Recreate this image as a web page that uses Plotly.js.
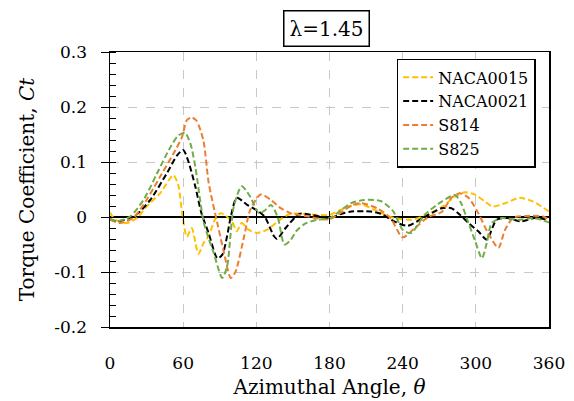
<!DOCTYPE html>
<html>
<head>
<meta charset="utf-8">
<script src="https://cdn.plot.ly/plotly-3.0.1.min.js"></script>
<style>html,body{margin:0;padding:0;background:#fff;}#chart{width:574px;height:401px;}</style>
</head>
<body>
<div id="chart"></div>
<script>
// ---- data ----
var seriesNames = ["NACA0015", "NACA0021", "S814", "S825"];

var naca0015X = [0,4,9,14,22,30,41,52,56,59,63,67,72.5,76.6,81,86,90.5,95,100,104,108,113.5,120.5,129,140,148,156,168,180,189,198,206,219,230,240,247,258,272,283,291,299,307.5,314,324,336,347,360];
var naca0015Y = [0.008,-0.005,-0.009,-0.011,-0.002,0.019,0.043,0.076,0.058,0.01,-0.036,-0.02,-0.067,-0.048,-0.034,-0.005,0.007,0.002,-0.008,-0.026,-0.011,-0.023,-0.029,-0.023,-0.004,0.006,0.006,0.004,0.004,0.013,0.02,0.023,0.011,0.0,-0.004,-0.005,0.002,0.018,0.037,0.045,0.041,0.028,0.019,0.025,0.035,0.028,0.010];

var naca0021X = [0,6,12,21.5,33,46.5,55,60,64,70,75,81,88,92,96,99,104,112.5,122,127,134.5,137,144,152,156,165,180,190,198,214,222,233,244,258,272,280,287,294,302,309,317,326,337,348,360];
var naca0021Y = [-0.004,-0.008,-0.005,0.004,0.031,0.079,0.112,0.122,0.103,0.055,0.007,-0.03,-0.075,-0.069,-0.035,0.0,0.035,0.022,0.01,0.0,-0.035,-0.04,-0.02,0.0,0.006,0.004,-0.002,0.006,0.01,0.01,0.006,-0.008,-0.016,0.0,0.016,0.016,0.004,-0.011,-0.026,-0.041,-0.005,-0.002,-0.008,-0.002,-0.005];

var s814X = [0,8,19,30,41,52,59,63,67,71,76.6,81,88,93.5,99,103,110,115,123.5,132,140,148,160,180,198,206,219,230,240,250,261,272,280,287,294,302,310,318.5,324,331,343,355,360];
var s814Y = [-0.005,-0.011,-0.002,0.031,0.073,0.115,0.145,0.176,0.181,0.175,0.139,0.061,-0.011,-0.065,-0.111,-0.099,-0.035,0.013,0.041,0.031,0.016,0.007,0.002,-0.004,0.021,0.025,0.016,-0.002,-0.037,-0.02,0.0,0.009,0.035,0.043,0.035,0.007,-0.029,-0.056,-0.023,-0.001,0.002,0.001,-0.005];

var s825X = [0,5.5,16.5,27.5,38.5,49.5,56,61.5,66,70,77,85,92,96,101.5,108,115,122,127,132,137.5,143,148,153,160,170,180,197.7,208.6,222,232,240,247,258,272,283,288,292.5,299,305,309,313,321,335,348,360];
var s825Y = [-0.003,-0.008,0.001,0.031,0.079,0.127,0.148,0.153,0.133,0.091,-0.011,-0.065,-0.111,-0.09,0.019,0.056,0.037,0.007,0.012,0.022,0.0,-0.05,-0.042,-0.025,-0.012,-0.005,-0.002,0.025,0.031,0.029,0.011,-0.023,-0.029,0.004,0.028,0.04,0.025,-0.002,-0.041,-0.075,-0.047,-0.011,-0.002,-0.005,-0.002,-0.01];

var xTickVals = [0,60,120,180,240,300,360];
var yTickVals = [-0.2,-0.1,0,0.1,0.2,0.3];
var yTickText = ["-0.2","-0.1","0","0.1","0.2","0.3"];
var titleText = "λ=1.45";

// ---- styling ----
var colors = ["#FFC000", "#000000", "#ED7D31", "#70AD47"];
var serif = "DejaVu Serif";
var xs = [naca0015X, naca0021X, s814X, s825X];
var ys = [naca0015Y, naca0021Y, s814Y, s825Y];

var traces = seriesNames.map(function (n, i) {
  return {
    x: xs[i], y: ys[i], name: n, type: "scatter", mode: "lines",
    line: {color: colors[i], width: 2, dash: "6px,3px", shape: "spline", smoothing: 0.7},
    hoverinfo: "skip"
  };
});
// helper empty traces so the overlay tick axes render
traces.push({x: [], y: [], xaxis: "x2", yaxis: "y", showlegend: false, hoverinfo: "skip"});
traces.push({x: [], y: [], xaxis: "x3", yaxis: "y", showlegend: false, hoverinfo: "skip"});
traces.push({x: [], y: [], xaxis: "x", yaxis: "y2", showlegend: false, hoverinfo: "skip"});

var zeroFrac = (0 - (-0.2)) / (0.3 - (-0.2));

var layout = {
  width: 574, height: 401,
  margin: {l: 110, r: 25, t: 52, b: 74},
  paper_bgcolor: "#fff", plot_bgcolor: "#fff",
  showlegend: true,
  font: {family: serif, color: "#000"},
  xaxis: {
    range: [0, 360], tickvals: xTickVals, ticks: "", ticklabelstandoff: 20,
    showgrid: true, gridcolor: "#c8c8c8", griddash: "dash", gridwidth: 1,
    showline: true, mirror: true, linecolor: "#000", linewidth: 1.5,
    zeroline: false, tickfont: {family: serif, size: 17, color: "#000"},
    title: {text: "Azimuthal Angle, <i>θ</i>", font: {family: serif, size: 20, color: "#000"}, standoff: 8},
    fixedrange: true
  },
  xaxis2: {
    overlaying: "x", anchor: "free", position: zeroFrac, range: [0, 360],
    tickvals: xTickVals.slice(1, 6), ticks: "inside", ticklen: 6, tickwidth: 1, tickcolor: "#000",
    showticklabels: false, showgrid: false, showline: false, zeroline: false
  },
  xaxis3: {
    overlaying: "x", anchor: "free", position: zeroFrac, range: [0, 360],
    tickvals: xTickVals.slice(1, 6), ticks: "outside", ticklen: 6, tickwidth: 1, tickcolor: "#000",
    showticklabels: false, showgrid: false, showline: false, zeroline: false
  },
  yaxis: {
    range: [-0.2, 0.3], tickvals: yTickVals, ticktext: yTickText,
    ticks: "outside", ticklen: 8, tickwidth: 1, tickcolor: "#000", ticklabelstandoff: 10,
    minor: {dtick: 0.02, ticks: "inside", ticklen: 6, tickwidth: 1, tickcolor: "#000", showgrid: false},
    showgrid: true, gridcolor: "#c8c8c8", griddash: "dash", gridwidth: 1,
    showline: true, mirror: true, linecolor: "#000", linewidth: 1.5,
    zeroline: true, zerolinecolor: "#000", zerolinewidth: 1.5,
    tickfont: {family: serif, size: 17, color: "#000"},
    title: {text: "Torque Coefficient, <i>Ct</i>", font: {family: serif, size: 20, color: "#000"}, standoff: 14},
    fixedrange: true
  },
  yaxis2: {
    overlaying: "y", anchor: "x", side: "left", range: [-0.2, 0.3],
    tickvals: yTickVals, ticks: "inside", ticklen: 6, tickwidth: 1, tickcolor: "#000",
    showticklabels: false, showgrid: false, showline: false, zeroline: false
  },
  legend: {
    x: 0.653, y: 0.975, xanchor: "left", yanchor: "top",
    bgcolor: "#fff", bordercolor: "#000", borderwidth: 1.5,
    font: {family: serif, size: 16, color: "#000"},
    tracegroupgap: 0, itemwidth: 30
  },
  annotations: [{
    text: titleText, xref: "paper", yref: "paper", x: 0.493, y: 1.087,
    xanchor: "center", yanchor: "middle", showarrow: false,
    font: {family: serif, size: 20, color: "#000"},
    bordercolor: "#000", borderwidth: 1.5, borderpad: 5, bgcolor: "#fff"
  }]
};

Plotly.newPlot("chart", traces, layout, {displayModeBar: false, staticPlot: true});
</script>
</body>
</html>
